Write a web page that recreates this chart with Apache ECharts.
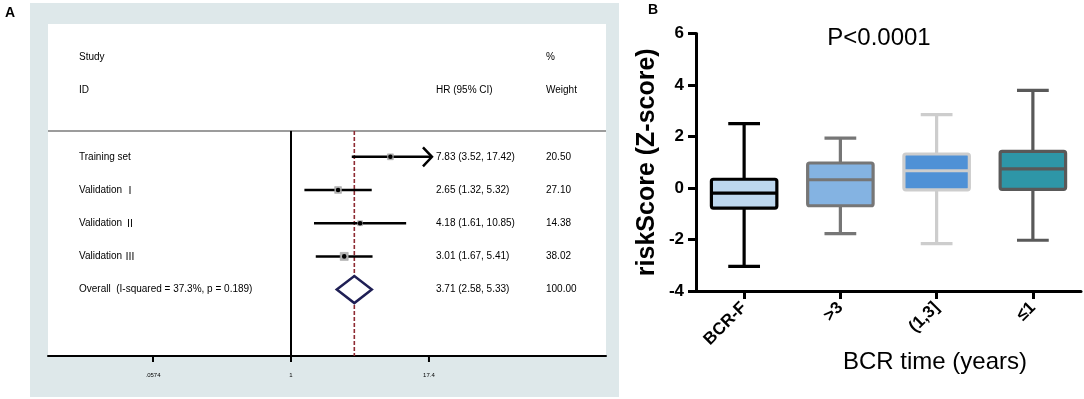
<!DOCTYPE html>
<html><head><meta charset="utf-8">
<script src="https://cdn.jsdelivr.net/npm/echarts@6/dist/echarts.min.js"></script>
<style>html,body{margin:0;padding:0;background:#fff}#c{width:1084px;height:399px}</style>
</head><body><div id="c"></div>
<script>
// ---------- Panel A: forest plot data ----------
const studyNames = ['Training set', 'Validation \u2160', 'Validation \u2161', 'Validation \u2162'];
const studyHR = [7.83, 2.65, 4.18, 3.01];
const studyLow = [3.52, 1.32, 1.61, 1.67];
const studyHigh = [17.42, 5.32, 10.85, 5.41];
const studyWeight = [20.50, 27.10, 14.38, 38.02];
const overallName = 'Overall  (I-squared = 37.3%, p = 0.189)';
const overallHR = [3.71, 2.58, 5.33];   // estimate, low, high
const overallWeight = 100.00;
const forestTickValues = [0.0574, 1, 17.4];
const forestTickLabels = ['.0574', '1', '17.4'];

// ---------- Panel B: box plot data ----------
const groups = ['BCR-F', '>3', '(1,3]', '\u22641'];
const boxMin = [-3.04, -1.77, -2.16, -2.03];
const boxQ1 = [-0.78, -0.69, -0.07, -0.05];
const boxMedian = [-0.20, 0.32, 0.67, 0.74];
const boxQ3 = [0.34, 0.97, 1.32, 1.42];
const boxMax = [2.50, 1.94, 2.85, 3.79];
const yTicksB = { min: -4, max: 6, interval: 2 };

// ---------- styles ----------
const FONT = '"Liberation Sans", Arial, Helvetica, sans-serif';
const CJK = '"Noto Sans CJK SC", "Liberation Sans", sans-serif';
const boxFill = ['#bdd7ee', '#84b3e2', '#4f91d6', '#2e96a7'];
const boxStroke = ['#000000', '#767676', '#cdcdcd', '#595959'];

// rows of the forest table
const studyRows = [3, 4, 5, 6];
const overallRow = 7;
const tableColX = [79, 436, 546];

const fmt = v => v.toFixed(2);
const hrText = (h, l, u) => fmt(h) + ' (' + fmt(l) + ', ' + fmt(u) + ')';

const tableCells = [
  { row: 0, col: 0, text: 'Study' }, { row: 0, col: 2, text: '%' },
  { row: 1, col: 0, text: 'ID' }, { row: 1, col: 1, text: 'HR (95% CI)' }, { row: 1, col: 2, text: 'Weight' }
];
studyNames.forEach((n, i) => {
  tableCells.push({ row: studyRows[i], col: 0, text: n });
  tableCells.push({ row: studyRows[i], col: 1, text: hrText(studyHR[i], studyLow[i], studyHigh[i]) });
  tableCells.push({ row: studyRows[i], col: 2, text: fmt(studyWeight[i]) });
});
tableCells.push({ row: overallRow, col: 0, text: overallName });
tableCells.push({ row: overallRow, col: 1, text: hrText(overallHR[0], overallHR[1], overallHR[2]) });
tableCells.push({ row: overallRow, col: 2, text: fmt(overallWeight) });

const forestData = studyNames.map((n, i) => [studyHR[i], studyLow[i], studyHigh[i], studyRows[i], studyWeight[i], 0]);
forestData.push([overallHR[0], overallHR[1], overallHR[2], overallRow, overallWeight, 1]);

const boxData = groups.map((g, i) => [i, boxMin[i], boxQ1[i], boxMedian[i], boxQ3[i], boxMax[i]]);

const chart = echarts.init(document.getElementById('c'), null, { renderer: 'canvas' });

const DIVIDER_ROW = 2.22;

function renderForest(params, api) {
  const h = api.value(0), lo = api.value(1), hi = api.value(2), row = api.value(3), w = api.value(4);
  const isOverall = api.value(5) === 1;
  const y = api.coord([1, row])[1];
  const xc = api.coord([h, row])[0];
  const xl = api.coord([lo, row])[0];
  const children = [];
  if (isOverall) {
    const xr = api.coord([hi, row])[0];
    const hh = 13.5;
    children.push({ type: 'polygon', shape: { points: [[xl, y], [xc, y - hh], [xr, y], [xc, y + hh]] },
      style: { fill: '#fff', stroke: '#1f1f55', lineWidth: 2.5 } });
    return { type: 'group', children };
  }
  const maxV = forestTickValues[forestTickValues.length - 1];
  const clipped = hi > maxV;
  const xr = api.coord([clipped ? maxV : hi, row])[0] + (clipped ? 3 : 0);
  children.push({ type: 'line', shape: { x1: xl, y1: y, x2: xr, y2: y }, style: { stroke: '#000', lineWidth: 2.5 } });
  if (clipped) {
    children.push({ type: 'polyline', shape: { points: [[xr - 9, y - 9.5], [xr, y], [xr - 9, y + 9.5]] },
      style: { stroke: '#000', lineWidth: 2.5, fill: null } });
  }
  const s = 1.3 * Math.sqrt(w);
  children.push({ type: 'rect', shape: { x: xc - s / 2, y: y - s / 2, width: s, height: s },
    style: { fill: '#b4b4b4', stroke: '#9a9a9a', lineWidth: 0.5 } });
  children.push({ type: 'circle', shape: { cx: xc, cy: y, r: 2.3 }, style: { fill: '#000' } });
  return { type: 'group', children };
}

function renderFrame(params, api) {
  const cs = params.coordSys;
  const yDiv = api.coord([1, DIVIDER_ROW])[1];
  const yBot = cs.y + cs.height;
  const xNull = api.coord([1, DIVIDER_ROW])[0];
  const xOv = api.coord([api.value(0), DIVIDER_ROW])[0];
  const children = [
    { type: 'line', shape: { x1: cs.x, y1: yDiv, x2: cs.x + cs.width, y2: yDiv }, style: { stroke: '#9c9c9c', lineWidth: 2 } },
    { type: 'line', shape: { x1: xNull, y1: yDiv, x2: xNull, y2: yBot }, style: { stroke: '#000', lineWidth: 2 } },
    { type: 'line', shape: { x1: xOv, y1: yDiv, x2: xOv, y2: yBot }, style: { stroke: '#8e2a32', lineWidth: 1.6, lineDash: [4, 2] } }
  ];
  forestTickValues.forEach((v, i) => {
    const x = api.coord([v, DIVIDER_ROW])[0];
    children.push({ type: 'line', shape: { x1: x, y1: yBot, x2: x, y2: yBot + 6 }, style: { stroke: '#000', lineWidth: 2 } });
    children.push({ type: 'text', style: { text: forestTickLabels[i], x: x, y: yBot + 19, align: 'center', verticalAlign: 'middle',
      font: '6px ' + FONT, fill: '#000' } });
  });
  return { type: 'group', children };
}

function renderTable(params, api) {
  const c = tableCells[params.dataIndex];
  const y = api.coord([1, c.row])[1];
  // roman numerals are set in a CJK font as in the original figure
  const txt = c.text.replace(/([\u2160-\u216F]+)/g, '{r|$1}');
  return { type: 'text', style: { text: txt, x: tableColX[c.col], y: y, align: 'left', verticalAlign: 'middle',
    font: '10px ' + FONT, fill: '#000',
    rich: { r: { fontFamily: CJK, fontSize: 10, fill: '#000' } } } };
}

function renderBox(params, api) {
  const i = api.value(0);
  const band = api.size([1, 0])[0];
  const xc = api.coord([i, 0])[0];
  const yMin = api.coord([i, api.value(1)])[1];
  const yQ1 = api.coord([i, api.value(2)])[1];
  const yMed = api.coord([i, api.value(3)])[1];
  const yQ3 = api.coord([i, api.value(4)])[1];
  const yMax = api.coord([i, api.value(5)])[1];
  const bw = band * 0.68, cw = band * 0.33;
  const st = boxStroke[i];
  const lw = 3.2;
  return { type: 'group', children: [
    { type: 'line', shape: { x1: xc, y1: yMax, x2: xc, y2: yMin }, style: { stroke: st, lineWidth: lw } },
    { type: 'line', shape: { x1: xc - cw / 2, y1: yMax, x2: xc + cw / 2, y2: yMax }, style: { stroke: st, lineWidth: lw } },
    { type: 'line', shape: { x1: xc - cw / 2, y1: yMin, x2: xc + cw / 2, y2: yMin }, style: { stroke: st, lineWidth: lw } },
    { type: 'rect', shape: { x: xc - bw / 2, y: yQ3, width: bw, height: yQ1 - yQ3, r: 2 }, style: { fill: boxFill[i], stroke: st, lineWidth: lw } },
    { type: 'line', shape: { x1: xc - bw / 2, y1: yMed, x2: xc + bw / 2, y2: yMed }, style: { stroke: st, lineWidth: lw } }
  ] };
}

const option = {
  animation: false,
  backgroundColor: '#fff',
  textStyle: { fontFamily: FONT },
  graphic: [
    { type: 'rect', z: -1, shape: { x: 30, y: 3, width: 589, height: 394 }, style: { fill: '#dee8ea' } },
    { type: 'rect', z: -1, shape: { x: 48, y: 24, width: 558, height: 333 }, style: { fill: '#ffffff' } },
    { type: 'text', style: { text: 'A', x: 10, y: 13, align: 'center', verticalAlign: 'middle', font: 'bold 14px ' + FONT, fill: '#000' } },
    { type: 'text', style: { text: 'B', x: 653, y: 10, align: 'center', verticalAlign: 'middle', font: 'bold 14px ' + FONT, fill: '#000' } },
    { type: 'text', style: { text: 'P<0.0001', x: 879, y: 38, align: 'center', verticalAlign: 'middle', font: '24px ' + FONT, fill: '#000' } },
    { type: 'text', style: { text: 'BCR time (years)', x: 935, y: 362, align: 'center', verticalAlign: 'middle', font: '24px ' + FONT, fill: '#000' } }
  ],
  grid: [
    { left: 48, top: 24, width: 558, height: 332, containLabel: false },
    { left: 696, top: 33.5, width: 385, height: 257.5, containLabel: false }
  ],
  xAxis: [
    { gridIndex: 0, type: 'log', logBase: Math.E, min: 0.00653, max: 680,
      axisLine: { show: true, onZero: false, lineStyle: { color: '#000', width: 2 } },
      axisTick: { show: false }, axisLabel: { show: false }, splitLine: { show: false } },
    { gridIndex: 1, type: 'category', data: groups, boundaryGap: true,
      axisLine: { show: true, onZero: false, lineStyle: { color: '#000', width: 3 } },
      axisTick: { show: true, alignWithLabel: true, length: 8, lineStyle: { color: '#000', width: 3 } },
      axisLabel: { rotate: 45, margin: 14, color: '#000', fontWeight: 'bold', fontSize: 17, fontFamily: FONT, interval: 0 },
      splitLine: { show: false } }
  ],
  yAxis: [
    { gridIndex: 0, type: 'value', min: -1, max: 9, inverse: true, show: false },
    { gridIndex: 1, type: 'value', min: yTicksB.min, max: yTicksB.max, interval: yTicksB.interval,
      axisLine: { show: true, onZero: false, lineStyle: { color: '#000', width: 3 } },
      axisTick: { show: true, length: 8, lineStyle: { color: '#000', width: 3 } },
      axisLabel: { margin: 12, color: '#000', fontWeight: 'bold', fontSize: 17, fontFamily: FONT },
      splitLine: { show: false },
      name: 'riskScore (Z-score)', nameLocation: 'middle', nameGap: 36, nameRotate: 90,
      nameTextStyle: { color: '#000', fontWeight: 'bold', fontSize: 25, fontFamily: FONT } }
  ],
  series: [
    { type: 'custom', name: 'frame', xAxisIndex: 0, yAxisIndex: 0, renderItem: renderFrame,
      data: [[overallHR[0], DIVIDER_ROW]], encode: { x: 0, y: 1 }, z: 1, silent: true },
    { type: 'custom', name: 'forest', xAxisIndex: 0, yAxisIndex: 0, renderItem: renderForest,
      data: forestData, encode: { x: [0, 1, 2], y: 3 }, z: 3, silent: true },
    { type: 'custom', name: 'table', xAxisIndex: 0, yAxisIndex: 0, renderItem: renderTable,
      data: tableCells.map(c => [1, c.row]), encode: { x: 0, y: 1 }, z: 3, silent: true },
    { type: 'custom', name: 'box', xAxisIndex: 1, yAxisIndex: 1, renderItem: renderBox,
      data: boxData, encode: { x: 0, y: [1, 2, 3, 4, 5] }, z: 3, silent: true }
  ]
};
chart.setOption(option);
</script>
</body></html>
